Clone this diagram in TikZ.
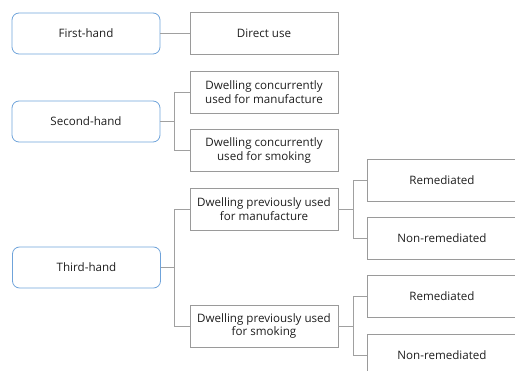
\documentclass[tikz,border=0pt]{standalone}
\usepackage{fontspec}
\setmainfont{Open Sans}
\definecolor{handblue}{HTML}{6FA3DA}
\definecolor{boxgray}{HTML}{9A9A9A}
\definecolor{linegray}{HTML}{A0A0A0}
\definecolor{txt}{HTML}{1E1E1E}
\begin{document}
\begin{tikzpicture}[x=1pt,y=-1pt,
        hand/.style={draw=handblue,line width=0.8pt,rounded corners=7pt,minimum width=148pt,minimum height=41pt,font=\fontsize{11.6}{13.8}\selectfont,text=txt},
        kind/.style={draw=boxgray,line width=0.8pt,minimum width=148pt,minimum height=42pt,align=center,inner sep=1pt,font=\fontsize{11.6}{13.8}\selectfont,text=txt},
        state/.style={kind,minimum width=150pt},
        link/.style={draw=linegray,line width=0.9pt}]
            \useasboundingbox (0,0) rectangle (515,371);
            % exposure levels
            \node[hand] (first) at (86,33.5) {First-hand};
            \node[hand] (second) at (86,121.5) {Second-hand};
            \node[hand] (third) at (86.5,267.5) {Third-hand};
            % sources
            \node[kind] (direct) at (264,33.5) {Direct use};
            \node[kind] (concman) at (264,92) {Dwelling concurrently\\used for manufacture};
            \node[kind] (concsmk) at (264,150.5) {Dwelling concurrently\\used for smoking};
            \node[kind] (prevman) at (264,209) {Dwelling previously used\\for manufacture};
            \node[kind] (prevsmk) at (264,326) {Dwelling previously used\\for smoking};
            % remediation
            \node[state] (remman) at (442,180) {Remediated};
            \node[state] (nonman) at (442,238) {Non-remediated};
            \node[state] (remsmk) at (442,296.5) {Remediated};
            \node[state] (nonsmk) at (442,355) {Non-remediated};
            % connectors
            \draw[link] (first) -- (direct);
            \draw[link] (second.east) -- ++(14,0) coordinate (jsec) |- (concman.west);
            \draw[link] (jsec) |- (concsmk.west);
            \draw[link] (third.east) -- ++(14,0) coordinate (jthi) |- (prevman.west);
            \draw[link] (jthi) |- (prevsmk.west);
            \draw[link] (prevman.east) -- ++(15,0) coordinate (jman) |- (remman.west);
            \draw[link] (jman) |- (nonman.west);
            \draw[link] (prevsmk.east) -- ++(15,0) coordinate (jsmk) |- (remsmk.west);
            \draw[link] (jsmk) |- (nonsmk.west);
        \end{tikzpicture}
\end{document}
